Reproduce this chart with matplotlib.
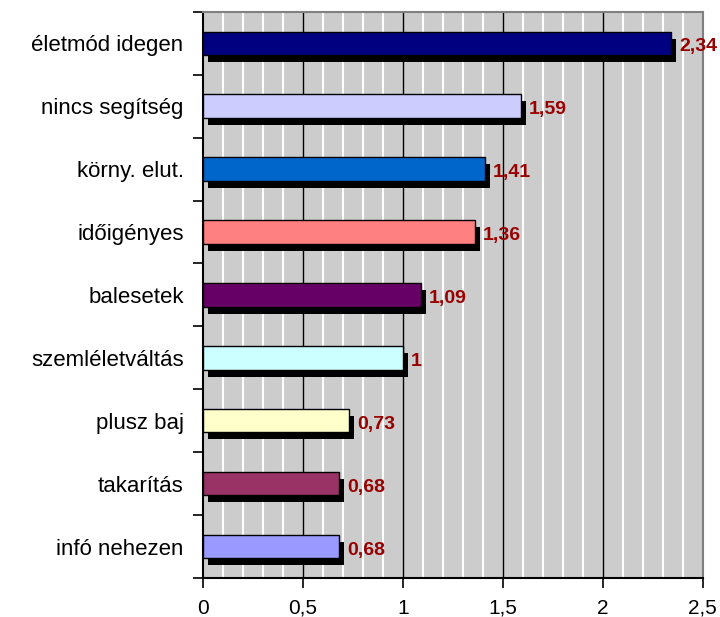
import matplotlib
matplotlib.use("Agg")
import matplotlib.pyplot as plt
from matplotlib.transforms import offset_copy
import numpy as np

plt.rcParams['font.family'] = ['Liberation Sans', 'DejaVu Sans']

kategoriak = ["életmód idegen", "nincs segítség", "körny. elut.", "időigényes",
              "balesetek", "szemléletváltás", "plusz baj", "takarítás", "infó nehezen"]
ertekek = [2.34, 1.59, 1.41, 1.36, 1.09, 1.0, 0.73, 0.68, 0.68]
cimkek = ["2,34", "1,59", "1,41", "1,36", "1,09", "1", "0,73", "0,68", "0,68"]
szinek = ["#000080", "#CCCCFF", "#0066CC", "#FF8080", "#660066",
          "#CCFFFF", "#FFFFCC", "#993366", "#9999FF"]
x_ticks = [0, 0.5, 1, 1.5, 2, 2.5]
x_labels = ["0", "0,5", "1", "1,5", "2", "2,5"]

fig = plt.figure(figsize=(7.2, 6.17), dpi=100)
ax = fig.add_axes([0.282, 0.063, 0.694, 0.918])
ax.set_facecolor("#CCCCCC")

y = np.arange(len(kategoriak))[::-1]
h = 0.37

# árnyék
arnyek = offset_copy(ax.transData, fig=fig, x=5, y=-7, units='dots')
ax.barh(y, ertekek, height=h, color="black", transform=arnyek, zorder=3)
ax.barh(y, ertekek, height=h, color=szinek, edgecolor="black", linewidth=1, zorder=4)

for yi, v, c in zip(y, ertekek, cimkek):
    ax.annotate(c, (v, yi), xytext=(6, -2.5), textcoords="offset points",
                va="center", ha="left", color="#990000", fontsize=14,
                fontweight="bold", zorder=5, annotation_clip=False)

ax.set_xlim(0, 2.5)
ax.set_ylim(-0.5, len(kategoriak) - 0.5)

for gx in np.arange(0.1, 2.5, 0.1):
    if abs(gx / 0.5 - round(gx / 0.5)) > 1e-6:
        ax.axvline(gx, color="white", linewidth=1.5, zorder=1)
for gx in x_ticks[1:-1]:
    ax.axvline(gx, color="black", linewidth=1, zorder=2)

ax.set_xticks(x_ticks)
ax.set_xticklabels(x_labels, fontsize=15)
ax.set_yticks(y)
ax.set_yticklabels(kategoriak, fontsize=16)
ax.tick_params(axis="y", which="major", length=0, pad=14)
ax.set_yticks(np.arange(-0.5, len(kategoriak), 1), minor=True)
ax.tick_params(axis="y", which="minor", length=7, width=1.2, direction="out")
ax.tick_params(axis="x", length=7, width=1.2, direction="out", pad=8)

ax.spines["left"].set_linewidth(1.5)
ax.spines["bottom"].set_linewidth(1.5)
ax.spines["top"].set_color("#808080")
ax.spines["right"].set_color("#808080")
ax.spines["top"].set_linewidth(1.5)
ax.spines["right"].set_linewidth(1.5)

fig.savefig("out.png", dpi=100)
